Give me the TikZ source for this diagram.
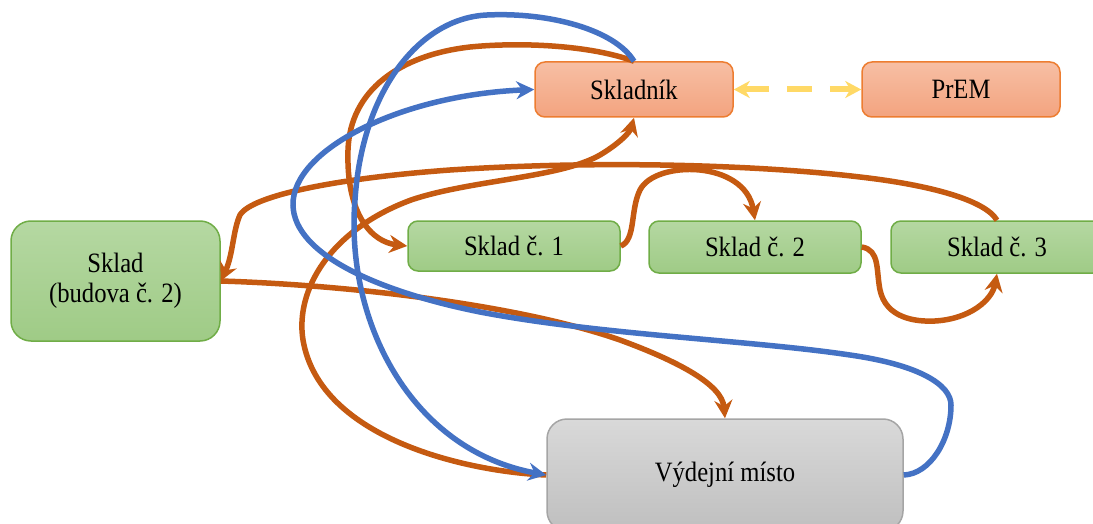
\documentclass[tikz,border=0pt]{standalone}
\usepackage{fontspec}
\setmainfont{Liberation Serif}
\usetikzlibrary{arrows.meta}
\definecolor{corange}{HTML}{C55A11}
\definecolor{cblue}{HTML}{4472C4}
\definecolor{cyellow}{HTML}{FFD966}
\definecolor{gtop}{HTML}{B5D8A2}
\definecolor{gbot}{HTML}{9FCB86}
\definecolor{gborder}{HTML}{70AD47}
\definecolor{otop}{HTML}{F7BFA4}
\definecolor{obot}{HTML}{F3A37F}
\definecolor{oborder}{HTML}{ED7D31}
\definecolor{ytop}{HTML}{D9D9D9}
\definecolor{ybot}{HTML}{BFBFBF}
\definecolor{yborder}{HTML}{A5A5A5}
\newcommand{\T}[1]{\scalebox{0.88}[1]{#1}}
\begin{document}
\begin{tikzpicture}[x=1pt,y=-1pt,
  box/.style={rounded corners=10pt, line width=1.5pt, inner sep=0pt,
    font=\fontsize{28}{30}\selectfont, text=black},
  greenbox/.style={box, draw=gborder, top color=gtop, bottom color=gbot},
  orangebox/.style={box, draw=oborder, top color=otop, bottom color=obot},
  graybox/.style={box, draw=yborder, top color=ytop, bottom color=ybot},
  tipstyle/.tip={Stealth[length=18pt,width=18pt,inset=6pt]},
  link/.style={line width=5.5pt, -tipstyle},
  olink/.style={link, draw=corange},
  blink/.style={link, draw=cblue},
  dashlink/.style={line width=6pt, draw=cyellow, dash pattern=on 25pt off 18pt,
    {Stealth[length=16pt,width=17pt,inset=5pt]}-{Stealth[length=16pt,width=17pt,inset=5pt]}},
]
\useasboundingbox (0,0) rectangle (1093,524);
\clip (0,0) rectangle (1093,524);

\node[orangebox, minimum width=198pt, minimum height=55pt] (skladnik) at (634,89.5) {\T{Skladník}};
\node[orangebox, minimum width=198pt, minimum height=55pt] (prem) at (961,89.5) {\T{PrEM}};
\node[greenbox, minimum width=209pt, minimum height=120pt, rounded corners=20pt, align=center] (sklad) at (115.5,281) {\T{Sklad}\\\T{(budova č. 2)}};
\node[greenbox, minimum width=212pt, minimum height=50pt] (s1) at (514,246) {\T{Sklad č. 1}};
\node[greenbox, minimum width=212pt, minimum height=52pt] (s2) at (755,247) {\T{Sklad č. 2}};
\node[greenbox, minimum width=212pt, minimum height=52pt] (s3) at (997,247) {\T{Sklad č. 3}};
\node[graybox, minimum width=356pt, minimum height=112pt, rounded corners=20pt] (vm) at (725,475) {\T{Výdejní místo}};

% dashed yellow
\draw[dashlink] (skladnik.east) -- (prem.west);

% orange connectors
\draw[olink] (skladnik.north) .. controls (590,45) and (520,42) .. (470,47)
  .. controls (400,55) and (350,90) .. (348,150)
  .. controls (346,215) and (372,242) .. (s1.west);
\draw[olink] (s3.north) .. controls (985,200) and (930,185) .. (860,177)
  .. controls (760,165) and (600,160) .. (450,170)
  .. controls (340,178) and (252,195) .. (240,215)
  .. controls (233,230) and (233,255) .. (sklad.east);
\draw[olink] (sklad.east) .. controls (350,285) and (520,305) .. (620,340)
  .. controls (680,362) and (722,385) .. (vm.north);
\draw[olink] (vm.west) .. controls (470,472) and (320,440) .. (303,340)
  .. controls (295,290) and (330,230) .. (411,200)
  .. controls (470,180) and (560,178) .. (600,155)
  .. controls (620,143) and (630,132) .. (skladnik.south);
\draw[olink] (s1.east) .. controls (636,240) and (630,210) .. (640,190)
  .. controls (655,160) and (745,160) .. (s2.north);
\draw[olink] (s2.east) .. controls (880,250) and (876,270) .. (880,290)
  .. controls (886,318) and (915,322) .. (935,321)
  .. controls (970,319) and (992,300) .. (s3.south);

% blue connectors
\draw[blink] (skladnik.north) .. controls (615,30) and (550,12) .. (487,15)
  .. controls (420,18) and (362,90) .. (355,200)
  .. controls (345,320) and (410,450) .. (vm.west);
\draw[blink] (vm.east) .. controls (930,474) and (951,440) .. (951,405)
  .. controls (951,385) and (920,365) .. (850,355)
  .. controls (750,340) and (600,335) .. (480,312)
  .. controls (380,292) and (294,255) .. (293,205)
  .. controls (292,150) and (400,95) .. (skladnik.west);
\end{tikzpicture}
\end{document}
